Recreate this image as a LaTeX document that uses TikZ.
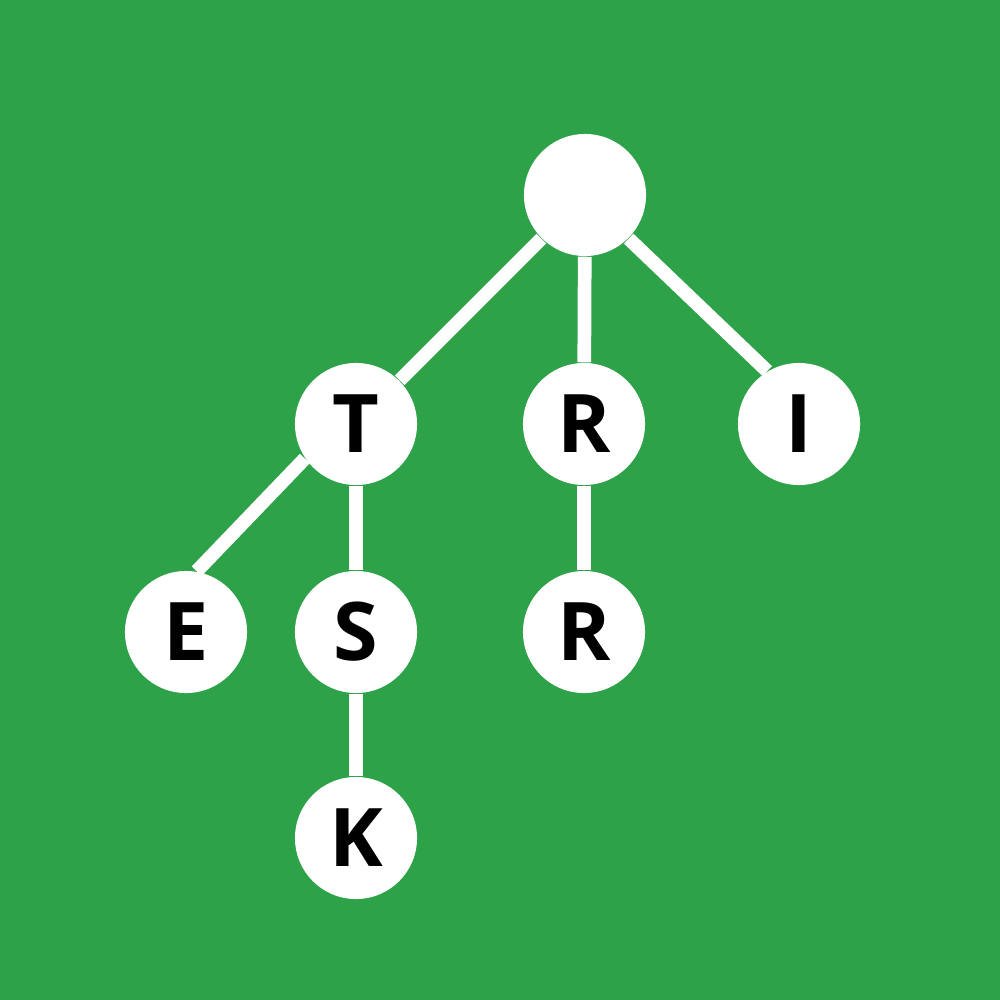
\documentclass[tikz,border=0pt]{standalone}
\usepackage{fontspec}
\setmainfont{Open Sans}
\definecolor{bggreen}{RGB}{46,162,73}
\begin{document}
\begin{tikzpicture}[x=0.01cm,y=-0.01cm,
  tnode/.style={circle,fill=white,minimum size=1.22cm,inner sep=0pt,
    font=\fontsize{23}{23}\selectfont\bfseries,text=black},
  edge/.style={draw=white,line width=3.9pt}]
\fill[bggreen] (0,0) rectangle (1000,1000);
\useasboundingbox (0,0) rectangle (1000,1000);
\node[tnode] (root) at (585,195) {};
\node[tnode] (t) at (356,424) {T};
\node[tnode] (r1) at (584,424) {R};
\node[tnode] (i) at (799,424) {I};
\node[tnode] (e) at (186,632) {E};
\node[tnode] (s) at (356,632) {S};
\node[tnode] (r2) at (584,632) {R};
\node[tnode] (k) at (356,838) {K};
\draw[edge] (root) -- (t);
\draw[edge] (root) -- (r1);
\draw[edge] (root.-45) -- (i.121);
\draw[edge] (t.214) -- (e.80);
\draw[edge] (t) -- (s);
\draw[edge] (r1) -- (r2);
\draw[edge] (s) -- (k);
\end{tikzpicture}
\end{document}
